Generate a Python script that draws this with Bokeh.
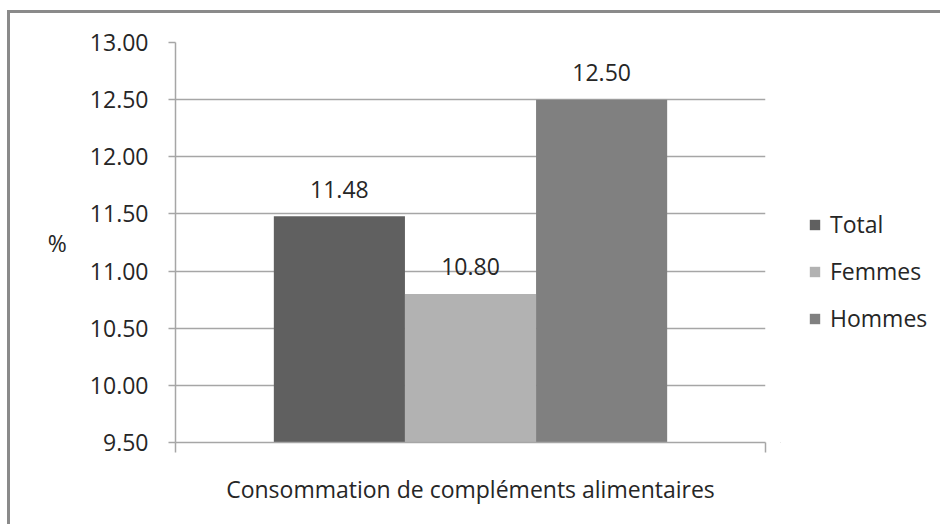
from bokeh.plotting import figure
from bokeh.layouts import row
from bokeh.models import Range1d, FixedTicker, Legend, LegendItem, ColumnDataSource, NumeralTickFormatter
from bokeh.core.properties import value
from bokeh.embed import file_html
from bokeh.resources import INLINE

# Data
series = ["Total", "Femmes", "Hommes"]
values = [11.48, 10.80, 12.50]
colors = ["#606060", "#b2b2b2", "#808080"]
category = "Consommation de compléments alimentaires"
y_ticks = [9.5, 10.0, 10.5, 11.0, 11.5, 12.0, 12.5, 13.0]

FONT = "Open Sans"
TEXT = "#262626"
GRID = "#a6a6a6"

# bar centres inside a single category cluster
centers = [1.25 + i for i in range(len(series))]

p = figure(
    width=770, height=511,
    x_range=Range1d(0, 4.5), y_range=Range1d(9.5, 13.0),
    output_backend="svg", toolbar_location=None,
    min_border_left=165, min_border_right=15,
    min_border_top=29, min_border_bottom=82,
)
p.outline_line_color = None
p.background_fill_color = "white"
p.border_fill_color = "white"

src = ColumnDataSource(dict(
    x=centers, top=values, color=colors, name=series,
    label=[f"{v:.2f}" for v in values],
))

p.vbar(x="x", top="top", bottom=9.5, width=1.0, source=src,
       fill_color="color", line_color=None)

p.text(x="x", y="top", text="label", source=src,
       text_align="center", text_baseline="alphabetic", y_offset=-27,
       text_font=value(FONT), text_font_size="23px", text_color=TEXT)

# Y axis
p.yaxis.ticker = FixedTicker(ticks=y_ticks)
p.yaxis.formatter = NumeralTickFormatter(format="0.00")
p.yaxis.major_label_text_font = FONT
p.yaxis.major_label_text_font_size = "23px"
p.yaxis.major_label_text_color = TEXT
p.yaxis.major_label_standoff = 20
p.yaxis.major_tick_out = 7
p.yaxis.major_tick_in = 0
p.yaxis.minor_tick_line_color = None
p.yaxis.axis_line_color = GRID
p.yaxis.axis_line_width = 1.5
p.yaxis.major_tick_line_color = GRID
p.yaxis.major_tick_line_width = 1.5
p.yaxis.axis_label = "%"
p.yaxis.axis_label_orientation = "horizontal"
p.yaxis.axis_label_text_font = FONT
p.yaxis.axis_label_text_font_style = "normal"
p.yaxis.axis_label_text_font_size = "23px"
p.yaxis.axis_label_text_color = TEXT
p.yaxis.axis_label_standoff = 20

# X axis: one category, ticks only at the frame edges
p.xaxis.ticker = FixedTicker(ticks=[0, 4.5])
p.xaxis.major_label_overrides = {0: "", 4.5: ""}
p.xaxis.major_tick_out = 10
p.xaxis.major_tick_in = 0
p.xaxis.minor_tick_line_color = None
p.xaxis.axis_line_color = GRID
p.xaxis.axis_line_width = 1.5
p.xaxis.major_tick_line_color = GRID
p.xaxis.major_tick_line_width = 1.5
p.xaxis.axis_label = category
p.xaxis.axis_label_text_font = FONT
p.xaxis.axis_label_text_font_style = "normal"
p.xaxis.axis_label_text_font_size = "23px"
p.xaxis.axis_label_text_color = TEXT
p.xaxis.axis_label_standoff = 20

p.xgrid.grid_line_color = None
p.ygrid.grid_line_color = GRID
p.ygrid.grid_line_width = 1.5

# Legend panel on the right; its ranges keep the bars out of view,
# only the legend swatches (one per series, by index) are shown
lg = figure(
    width=160, height=511,
    x_range=Range1d(100, 101), y_range=Range1d(100, 101),
    output_backend="svg", toolbar_location=None,
    x_axis_location=None, y_axis_location=None,
    min_border=0,
)
lg.outline_line_color = None
lg.grid.grid_line_color = None
lg.border_fill_color = "white"
lg.background_fill_color = "white"

key_r = lg.vbar(x="x", top="top", bottom=9.5, width=1.0, source=src,
                fill_color="color", line_color=None)

legend = Legend(
    items=[LegendItem(label=s, renderers=[key_r], index=i) for i, s in enumerate(series)],
    location=(28, 108),
    glyph_width=13, glyph_height=13,
    label_text_font=FONT, label_text_font_size="23px", label_text_color=TEXT,
    label_height=20, spacing=15, label_standoff=9,
    padding=0, margin=0, border_line_color=None, background_fill_alpha=0,
)
lg.add_layout(legend, "center")

layout = row(p, lg)
layout.styles = {
    "margin-left": "7px", "margin-top": "10px",
    "border-top": "3px solid #8a8a8a", "border-left": "3px solid #8a8a8a",
}

open("out.html", "w").write(file_html(layout, INLINE))
